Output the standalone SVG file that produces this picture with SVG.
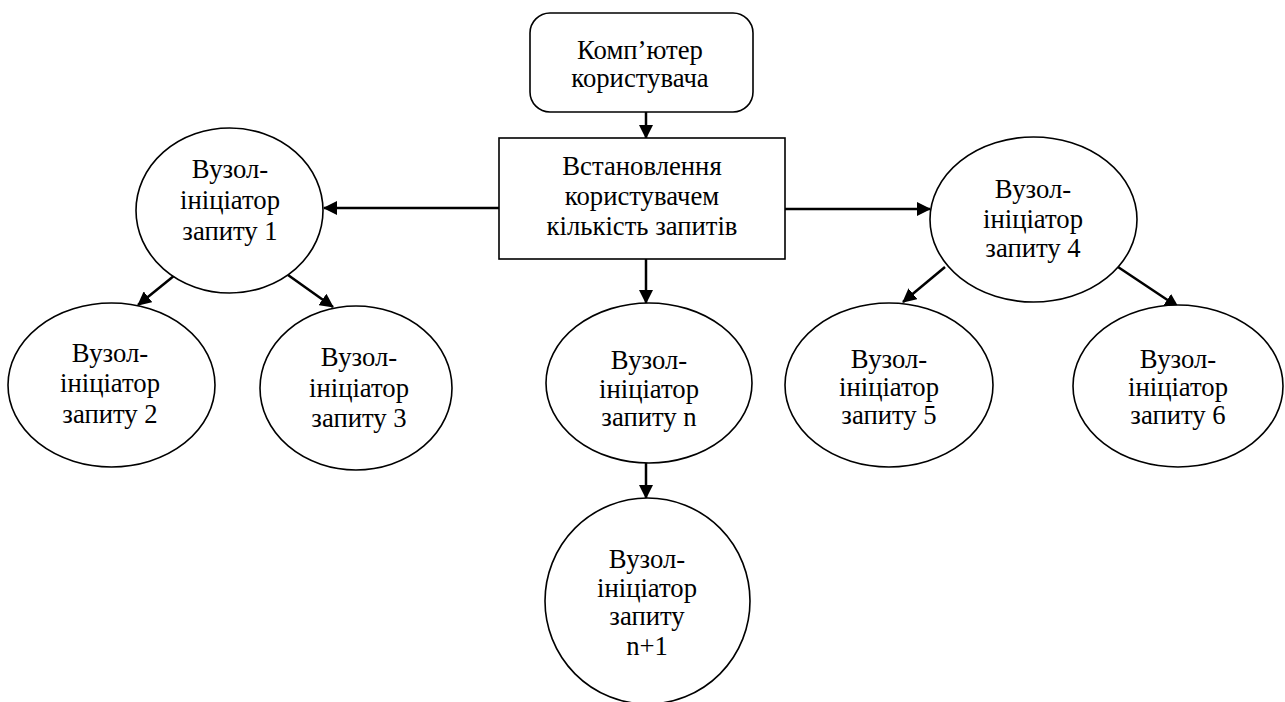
<svg xmlns="http://www.w3.org/2000/svg" width="1285" height="702" viewBox="0 0 1285 702" xml:lang="uk" lang="uk">
<style>
.shape{fill:#fff;stroke:#000;stroke-width:1.6}
.conn line{stroke:#000;stroke-width:2.5}
.t{font-family:'Times New Roman',Tinos,'Liberation Serif',serif;font-size:26.7px;fill:#000;text-anchor:middle}
</style>
<defs>
<marker id="ah" markerUnits="userSpaceOnUse" markerWidth="14" markerHeight="14" viewBox="0 0 14 14" refX="13" refY="7" orient="auto">
<path d="M0,0 L14,7 L0,14 z" fill="#000"/>
</marker>
</defs>
<rect width="1285" height="702" fill="#fff"/>
<g class="conn">
<line x1="646" y1="112" x2="646" y2="138" marker-end="url(#ah)"/>
<line x1="499" y1="208" x2="324" y2="208" marker-end="url(#ah)"/>
<line x1="785" y1="209" x2="930" y2="209" marker-end="url(#ah)"/>
<line x1="646" y1="259" x2="646" y2="303" marker-end="url(#ah)"/>
<line x1="646" y1="463" x2="646" y2="498" marker-end="url(#ah)"/>
<line x1="175" y1="275" x2="138" y2="305" marker-end="url(#ah)"/>
<line x1="288" y1="275" x2="333" y2="307" marker-end="url(#ah)"/>
<line x1="945" y1="267" x2="903" y2="302" marker-end="url(#ah)"/>
<line x1="1118" y1="267" x2="1178" y2="307" marker-end="url(#ah)"/>
</g>
<g id="computer">
<rect class="shape" x="530" y="13" width="223" height="99" rx="20"/>
<text class="t" x="640" y="59">Комп’ютер</text>
<text class="t" x="640" y="87">користувача</text>
</g>
<g id="setup">
<rect class="shape" x="499" y="138" width="286" height="121"/>
<text class="t" x="642" y="175">Встановлення</text>
<text class="t" x="642" y="205">користувачем</text>
<text class="t" x="642" y="235">кількість запитів</text>
</g>
<g id="node1">
<ellipse class="shape" cx="229.5" cy="210.5" rx="93.5" ry="82.5"/>
<text class="t" x="230" y="178">Вузол-</text>
<text class="t" x="230" y="209">ініціатор</text>
<text class="t" x="230" y="240">запиту 1</text>
</g>
<g id="node2">
<ellipse class="shape" cx="111.5" cy="385" rx="103.5" ry="82"/>
<text class="t" x="110" y="362">Вузол-</text>
<text class="t" x="110" y="392">ініціатор</text>
<text class="t" x="110" y="423">запиту 2</text>
</g>
<g id="node3">
<ellipse class="shape" cx="356" cy="388" rx="96" ry="82"/>
<text class="t" x="359" y="366">Вузол-</text>
<text class="t" x="359" y="397">ініціатор</text>
<text class="t" x="359" y="427">запиту 3</text>
</g>
<g id="noden">
<ellipse class="shape" cx="649" cy="383" rx="103" ry="80"/>
<text class="t" x="649" y="369">Вузол-</text>
<text class="t" x="649" y="398">ініціатор</text>
<text class="t" x="649" y="426">запиту n</text>
</g>
<g id="noden1">
<ellipse class="shape" cx="647.5" cy="601" rx="102.5" ry="103"/>
<text class="t" x="647" y="568">Вузол-</text>
<text class="t" x="647" y="597">ініціатор</text>
<text class="t" x="647" y="625">запиту</text>
<text class="t" x="647" y="655">n+1</text>
</g>
<g id="node4">
<ellipse class="shape" cx="1033.5" cy="219.5" rx="103.5" ry="82.5"/>
<text class="t" x="1033" y="198">Вузол-</text>
<text class="t" x="1033" y="228">ініціатор</text>
<text class="t" x="1033" y="257">запиту 4</text>
</g>
<g id="node5">
<ellipse class="shape" cx="889" cy="385" rx="104" ry="82"/>
<text class="t" x="889" y="368">Вузол-</text>
<text class="t" x="889" y="396">ініціатор</text>
<text class="t" x="889" y="424">запиту 5</text>
</g>
<g id="node6">
<ellipse class="shape" cx="1178" cy="386" rx="105" ry="81"/>
<text class="t" x="1178" y="368">Вузол-</text>
<text class="t" x="1178" y="396">ініціатор</text>
<text class="t" x="1178" y="424">запиту 6</text>
</g>
</svg>
